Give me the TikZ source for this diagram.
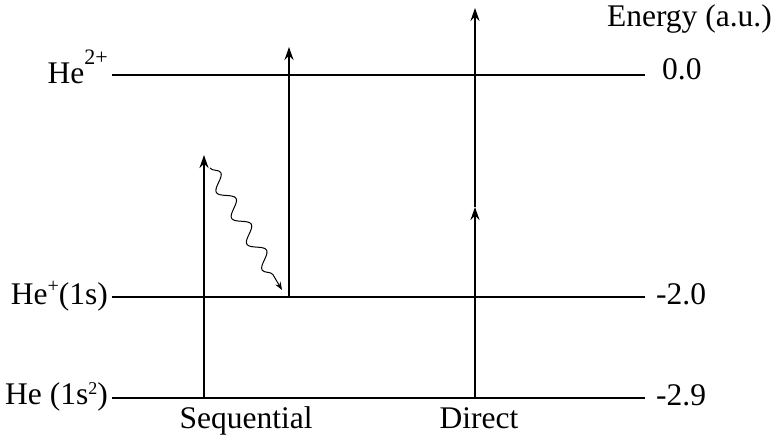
\documentclass[tikz,border=0pt]{standalone}
\usepackage{fontspec}
\setmainfont{Liberation Serif}
\usetikzlibrary{arrows.meta,decorations.pathmorphing}

\newcommand{\supr}[3]{\raisebox{#1}{\fontsize{#2}{#2}\selectfont #3}}

\begin{document}
\begin{tikzpicture}[x=1pt, y=-1pt,
    lvl/.style={line width=2pt},
    arr/.style={line width=2pt, -{Stealth[length=13pt,width=9pt]}},
    txt/.style={font=\fontsize{31.5}{36}\selectfont, inner sep=0pt}]
        \useasboundingbox (0,0) rectangle (773,435);

        % Energy levels
        \draw[lvl] (112,75) coordinate (dblL) -- (645,75) coordinate (dblR);
        \draw[lvl] (112,297) coordinate (sglL) -- (645,297) coordinate (sglR);
        \draw[lvl] (112,398) coordinate (gndL) -- (645,398) coordinate (gndR);

        % Level labels
        \node[txt, anchor=base east] (dblname) at (108,84) {He\supr{19pt}{22}{2+}};
        \node[txt, anchor=base east] (sglname) at (108,305) {He\supr{12pt}{20}{+}(1s)};
        \node[txt, anchor=base east] (gndname) at (108,404) {He (1s\supr{10pt}{18}{2})};
        \node[txt, anchor=base west] (dblval) at (662,80) {0.0};
        \node[txt, anchor=base west] (sglval) at (656,305) {-2.0};
        \node[txt, anchor=base west] (gndval) at (656,405) {-2.9};
        \node[txt, anchor=base east] (axis) at (772,27) {Energy (a.u.)};

        % Sequential path
        \coordinate (seqA) at (204,398);
        \coordinate (seqB) at (204,155);
        \coordinate (seqC) at (289,297);
        \coordinate (seqD) at (289,47);
        \draw[arr] (seqA) -- (seqB);
        \draw[arr] (seqC) -- (seqD);
        \draw[line width=1pt, -{Stealth[length=8pt,width=6pt]},
              decorate, decoration={snake, amplitude=7pt, segment length=30pt, post length=8pt}]
              (210,168) coordinate (relaxA) -- (282,290) coordinate (relaxB);

        % Direct path
        \coordinate (dirA) at (475,398);
        \coordinate (dirB) at (475,207);
        \coordinate (dirC) at (475,8);
        \draw[arr] (dirA) -- (dirB);
        \draw[arr] (dirB) -- (dirC);

        % Path names
        \node[txt, anchor=base] (seqname) at (246,428) {Sequential};
        \node[txt, anchor=base] (dirname) at (479,428) {Direct};
    \end{tikzpicture}
\end{document}
